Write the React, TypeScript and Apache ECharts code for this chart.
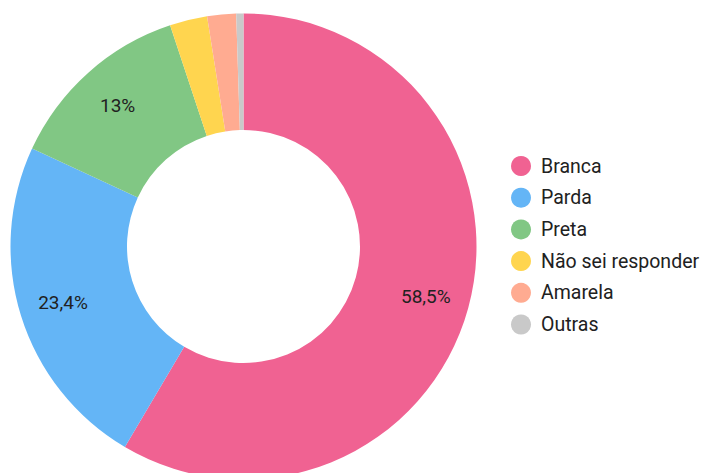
import React, { useEffect, useRef } from "react";
import * as echarts from "echarts";

const categories = ["Branca", "Parda", "Preta", "Não sei responder", "Amarela", "Outras"];
const values = [58.5, 23.4, 13, 2.6, 2.0, 0.5];
const colors = ["#F06292", "#64B5F6", "#81C784", "#FFD54F", "#FFAB91", "#C9C9C9"];
const labelledMin = 5;

export default function App() {
  const ref = useRef<HTMLDivElement>(null);
  useEffect(() => {
    if (!ref.current) return;
    const chart = echarts.init(ref.current, null, { renderer: "svg" });
    const data = categories.map((name, i) => ({
      name,
      value: values[i],
      itemStyle: { color: colors[i] },
    }));
    const center = [243.5, 246.5];
    chart.setOption({
      animation: false,
      textStyle: { fontFamily: "Roboto" },
      legend: {
        orient: "vertical",
        left: 506,
        top: 151,
        padding: 5,
        icon: "circle",
        itemWidth: 30,
        itemHeight: 20,
        itemGap: 11.7,
        data: categories,
        textStyle: { fontSize: 19.5, color: "#212121", fontFamily: "Roboto" },
      },
      series: [
        {
          type: "pie",
          center,
          radius: [116.5, 233],
          startAngle: 90,
          clockwise: true,
          label: { show: false },
          labelLine: { show: false },
          emphasis: { disabled: true },
          data,
        },
        {
          type: "pie",
          center,
          radius: [141, 231],
          startAngle: 90,
          clockwise: true,
          silent: true,
          emphasis: { disabled: true },
          itemStyle: { color: "rgba(0,0,0,0)" },
          labelLine: { show: false },
          label: {
            show: true,
            position: "inside",
            fontSize: 19,
            color: "#212121",
            fontFamily: "Roboto",
            formatter: (p: any) =>
              p.value >= labelledMin ? String(p.value).replace(".", ",") + "%" : "",
          },
          data: categories.map((name, i) => ({
            name,
            value: values[i],
            itemStyle: { color: "rgba(0,0,0,0)" },
          })),
        },
      ],
    });
    return () => chart.dispose();
  }, []);
  return (
    <div
      ref={ref}
      style={{ position: "fixed", left: 0, top: 0, width: 708, height: 473, background: "#fff" }}
    />
  );
}
